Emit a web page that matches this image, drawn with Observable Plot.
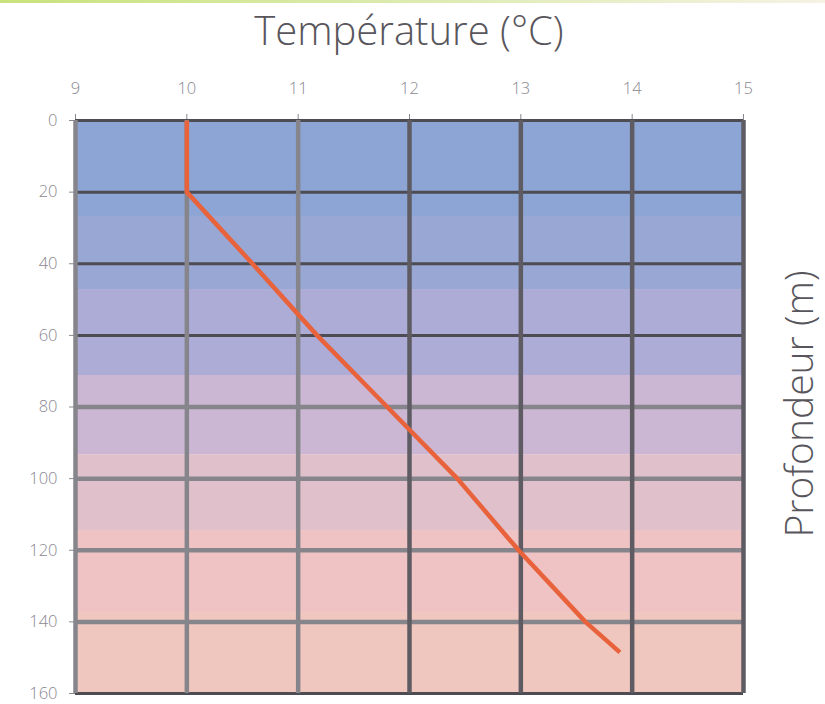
<!DOCTYPE html>
<html>
<head>
<meta charset="utf-8">
<script src="https://cdn.jsdelivr.net/npm/d3@7"></script>
<script src="https://cdn.jsdelivr.net/npm/@observablehq/plot@0.6"></script>
<style>
  html, body { margin: 0; padding: 0; background: #ffffff; }
  #chart svg { display: block; }
</style>
</head>
<body>
<div id="chart"></div>
<script>
// ---- data ----
const depths = [0, 20, 40, 60, 80, 100, 120, 140, 148.5];          // m
const temperatures = [10, 10, 10.59, 11.17, 11.8, 12.43, 12.98, 13.58, 13.89]; // °C
const xTicks = [9, 10, 11, 12, 13, 14, 15];
const yTicks = [0, 20, 40, 60, 80, 100, 120, 140, 160];
const bandEdges = [0, 26.8, 47.2, 71.2, 93.3, 114.5, 137.4, 160];
const bandColors = ["#8da5d4", "#98a7d4", "#acacd6", "#cbb7d3", "#e0c1cb", "#efc2c3", "#f0c7bf"];
const titleText = "Température (°C)";
const yLabelText = "Profondeur (m)";

const profile = depths.map((d, i) => ({depth: d, temp: temperatures[i]}));
const bands = bandColors.map((c, i) => ({y1: bandEdges[i], y2: bandEdges[i + 1], fill: c}));

const dark = "#4d4c52";
const gray = "#87858c";
const tickColor = "#8a8790";

const W = 825, H = 704;
const chart = Plot.plot({
  width: W,
  height: H,
  marginLeft: 75,
  marginRight: 82,
  marginTop: 120,
  marginBottom: 11,
  style: {fontFamily: "'Open Sans', 'DejaVu Sans', sans-serif", fontSize: "16.5px", color: tickColor, background: "transparent"},
  x: {domain: [9, 15], axis: "top", ticks: xTicks, tickSize: 7, tickPadding: 20, label: null, tickFormat: d => String(d)},
  y: {domain: [0, 160], reverse: true, ticks: yTicks, tickSize: 6, tickPadding: 12, label: null, tickFormat: d => String(d)},
  marks: [
    Plot.rect(bands, {x1: 9, x2: 15, y1: "y1", y2: "y2", fill: "fill"}),
    Plot.ruleY(yTicks, {stroke: d => (d <= 60 || d === 160) ? dark : gray, strokeWidth: d => (d <= 60 || d === 160) ? 3 : 4.5}),
    Plot.ruleX(xTicks, {stroke: d => d >= 12 ? "#5e5c62" : gray, strokeWidth: 4.5}),
    Plot.line(profile, {x: "temp", y: "depth", stroke: "#e8623c", strokeWidth: 4.5, strokeLinecap: "butt"})
  ]
});
document.getElementById("chart").appendChild(chart);

const svg = d3.select(chart);
svg.selectAll("[aria-label='x-axis tick label'] text, [aria-label='y-axis tick label'] text")
  .attr("fill", tickColor).style("font-weight", 300);

// top green accent strip
const defs = svg.insert("defs", ":first-child");
const grad = defs.append("linearGradient").attr("id", "topStrip").attr("x1", "0").attr("x2", "1");
grad.append("stop").attr("offset", "0").attr("stop-color", "#c9e27c");
grad.append("stop").attr("offset", "0.5").attr("stop-color", "#dcebb0");
grad.append("stop").attr("offset", "1").attr("stop-color", "#f6f2e4");
svg.append("rect").attr("x", 0).attr("y", 0).attr("width", W).attr("height", 3).attr("fill", "url(#topStrip)");

// title and y-axis label
svg.append("text")
  .attr("x", 409).attr("y", 45)
  .attr("text-anchor", "middle")
  .attr("fill", "#58565c")
  .style("font-family", "'Open Sans', 'DejaVu Sans', sans-serif")
  .style("font-size", "40px").style("font-weight", 300)
  .text(titleText);

svg.append("text")
  .attr("transform", "translate(813,404) rotate(-90)")
  .attr("text-anchor", "middle")
  .attr("fill", "#58565c")
  .style("font-family", "'Open Sans', 'DejaVu Sans', sans-serif")
  .style("font-size", "39px").style("font-weight", 300)
  .text(yLabelText);
</script>
</body>
</html>
